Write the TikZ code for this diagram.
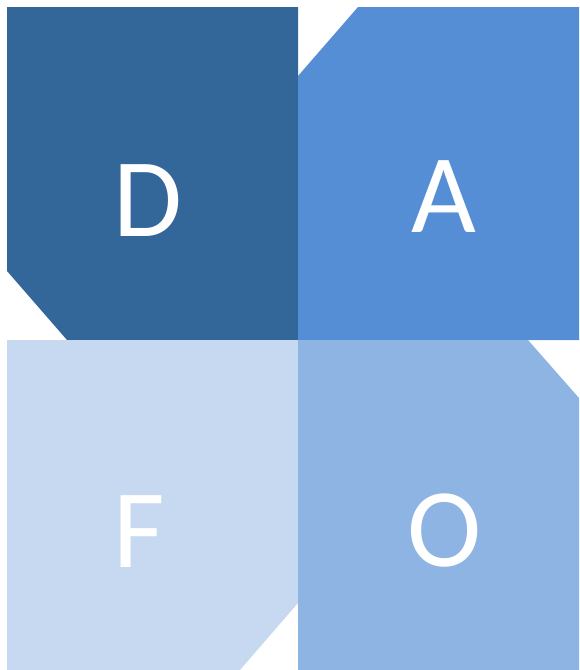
\documentclass[tikz,border=0pt]{standalone}
\usepackage{fontspec}
\setmainfont{Carlito}
\definecolor{dafoblue}{RGB}{51,102,153}
\definecolor{dafomid}{RGB}{85,142,213}
\definecolor{dafolight}{RGB}{198,217,240}
\definecolor{dafosky}{RGB}{142,180,227}
\usetikzlibrary{positioning}
\tikzset{letter/.style={anchor=base, inner sep=0pt, text=white, font=\fontsize{112}{112}\selectfont}}

\begin{document}
\begin{tikzpicture}[x=1pt, y=-1pt]
  \useasboundingbox (0,0) rectangle (579,670);

  % D: top left, cut bottom-left corner
  \fill[dafoblue] (7,7) -- (298,7) -- (298,340) -- (67,340) -- (7,271) -- cycle;
  \node[letter] (d) at (148,236) {D};

  % A: top right, cut top-left corner
  \fill[dafomid] (298,76) -- (358,7) -- (579,7) -- (579,340) -- (298,340) -- cycle;
  \node[letter] (a) at (443.5,232) {A};

  % F: bottom left, cut bottom-right corner
  \fill[dafolight] (7,340) -- (298,340) -- (298,603) -- (240,670) -- (7,670) -- cycle;
  \node[letter] (f) at (139,567) {F};

  % O: bottom right, cut top-right corner
  \fill[dafosky] (298,340) -- (528,340) -- (579,398) -- (579,670) -- (298,670) -- cycle;
  \node[letter] (o) at (445,566) {O};
\end{tikzpicture}
\end{document}
